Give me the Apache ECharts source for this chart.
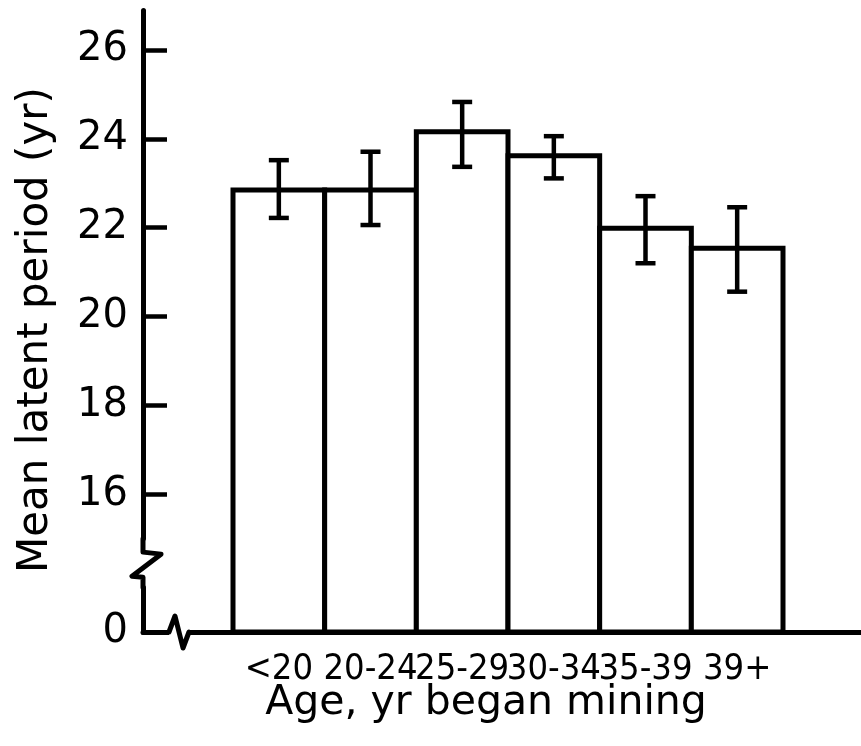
<!DOCTYPE html>
<html><head><meta charset="utf-8">
<script src="https://cdn.jsdelivr.net/npm/echarts@6/dist/echarts.min.js"></script>
<style>html,body{margin:0;padding:0;background:#fff}#c{width:861px;height:746px}</style>
</head><body><div id="c"></div>
<script>
const categories = ['<20', '20-24', '25-29', '30-34', '35-39', '39+'];
const meanValues = [22.85, 22.85, 24.16, 23.62, 21.99, 21.54];
const errLow = [22.22, 22.06, 23.37, 23.11, 21.20, 20.56];
const errHigh = [23.52, 23.71, 24.83, 24.06, 22.71, 22.46];
const yLabelValues = [0, 16, 18, 20, 22, 24, 26];
const yTickValues = [16, 18, 20, 22, 24, 26];
const yName = 'Mean latent period (yr)';
const xName = 'Age, yr began mining';

const TOP = 10, BOTTOM = 114, AX_LEFT = 143;
const chart = echarts.init(document.getElementById('c'));
const yCommon = {
  type: 'value', min: 0, max: 26.9,
  breaks: [{ start: 1, end: 15, gap: 1.1 }],
  breakArea: { show: false },
  splitLine: { show: false }
};
const option = {
  backgroundColor: '#fff',
  animation: false,
  title: {
    text: xName, left: 481, top: 678, textAlign: 'center',
    textStyle: { fontFamily: 'DejaVu Sans', fontSize: 41, fontWeight: 'normal', color: '#000' }
  },
  grid: [
    { left: 233, right: 78, top: TOP, bottom: BOTTOM },
    { left: AX_LEFT, right: 0, top: TOP, bottom: BOTTOM }
  ],
  xAxis: [
    { gridIndex: 0, type: 'category', data: categories,
      axisLine: { show: false }, axisTick: { show: false },
      axisLabel: { interval: 0, fontSize: 36, fontFamily: 'DejaVu Sans Condensed, DejaVu Sans, sans-serif', color: '#000', margin: 20 } },
    { gridIndex: 1, type: 'category', data: categories,
      axisLine: { lineStyle: { color: '#000', width: 5 } },
      axisTick: { show: false }, axisLabel: { show: false } }
  ],
  yAxis: [
    Object.assign({ gridIndex: 0, show: false }, yCommon),
    Object.assign({
      gridIndex: 1,
      axisLine: { show: true, lineStyle: { color: '#000', width: 5 } },
      axisTick: { show: true, inside: true, length: 24, lineStyle: { color: '#000', width: 4.5 }, customValues: yTickValues },
      axisLabel: { customValues: yLabelValues, fontFamily: 'DejaVu Sans', fontSize: 40, color: '#000', margin: 15 }
    }, yCommon)
  ],
  series: [
    { type: 'custom', name: 'mean', xAxisIndex: 0, yAxisIndex: 0, z: 5,
      data: categories.map((c, i) => [i, meanValues[i]]),
      encode: { x: 0, y: 1 },
      renderItem: function (params, api) {
        const base = api.coord([api.value(0), 0]);
        const top = api.coord([api.value(0), api.value(1)]);
        const w = api.size([1, 0])[0];
        return { type: 'rect',
          shape: { x: base[0] - w / 2, y: top[1], width: w, height: base[1] - top[1] },
          style: { fill: '#fff', stroke: '#000', lineWidth: 5, lineJoin: 'miter' } };
      }
    },
    { type: 'custom', name: 'error', xAxisIndex: 0, yAxisIndex: 0, z: 10,
      data: categories.map((c, i) => [i, errLow[i], errHigh[i]]),
      encode: { x: 0, y: [1, 2] },
      renderItem: function (params, api) {
        const lo = api.coord([api.value(0), api.value(1)]);
        const hi = api.coord([api.value(0), api.value(2)]);
        const w = 10, st = { stroke: '#000', lineWidth: 4.5 };
        return { type: 'group', children: [
          { type: 'line', shape: { x1: lo[0], y1: lo[1], x2: hi[0], y2: hi[1] }, style: st },
          { type: 'line', shape: { x1: lo[0] - w, y1: lo[1], x2: lo[0] + w, y2: lo[1] }, style: st },
          { type: 'line', shape: { x1: hi[0] - w, y1: hi[1], x2: hi[0] + w, y2: hi[1] }, style: st }
        ] };
      }
    }
  ]
};
chart.setOption(option);

const p0 = chart.convertToPixel({ yAxisIndex: 1 }, 0);
const p1 = chart.convertToPixel({ yAxisIndex: 1 }, 1);
const p15 = chart.convertToPixel({ yAxisIndex: 1 }, 15);
const p16 = chart.convertToPixel({ yAxisIndex: 1 }, 16);
const mid = (p0 + p16) / 2;
const ls = { stroke: '#000', lineWidth: 5, fill: null, lineJoin: 'round', lineCap: 'round' };
chart.setOption({
  graphic: [
    { type: 'text', x: 36, y: 330, rotation: Math.PI / 2,
      style: { text: yName, fontFamily: 'DejaVu Sans', fontSize: 42, fill: '#000', align: 'center', verticalAlign: 'middle' } },
    { type: 'polyline', shape: { points: [[AX_LEFT, p15], [AX_LEFT, mid - 11], [AX_LEFT + 18, mid - 9], [AX_LEFT - 11, mid + 13], [AX_LEFT, mid + 14], [AX_LEFT, p1]] }, style: ls, z: 101 },
    { type: 'rect', shape: { x: AX_LEFT + 26, y: p0 - 4, width: 20, height: 8 }, style: { fill: '#fff' }, z: 100 },
    { type: 'polyline', shape: { points: [[AX_LEFT + 26, p0], [AX_LEFT + 32, p0 - 16], [AX_LEFT + 40, p0 + 16], [AX_LEFT + 46, p0]] }, style: ls, z: 101 }
  ]
});
</script>
</body></html>
